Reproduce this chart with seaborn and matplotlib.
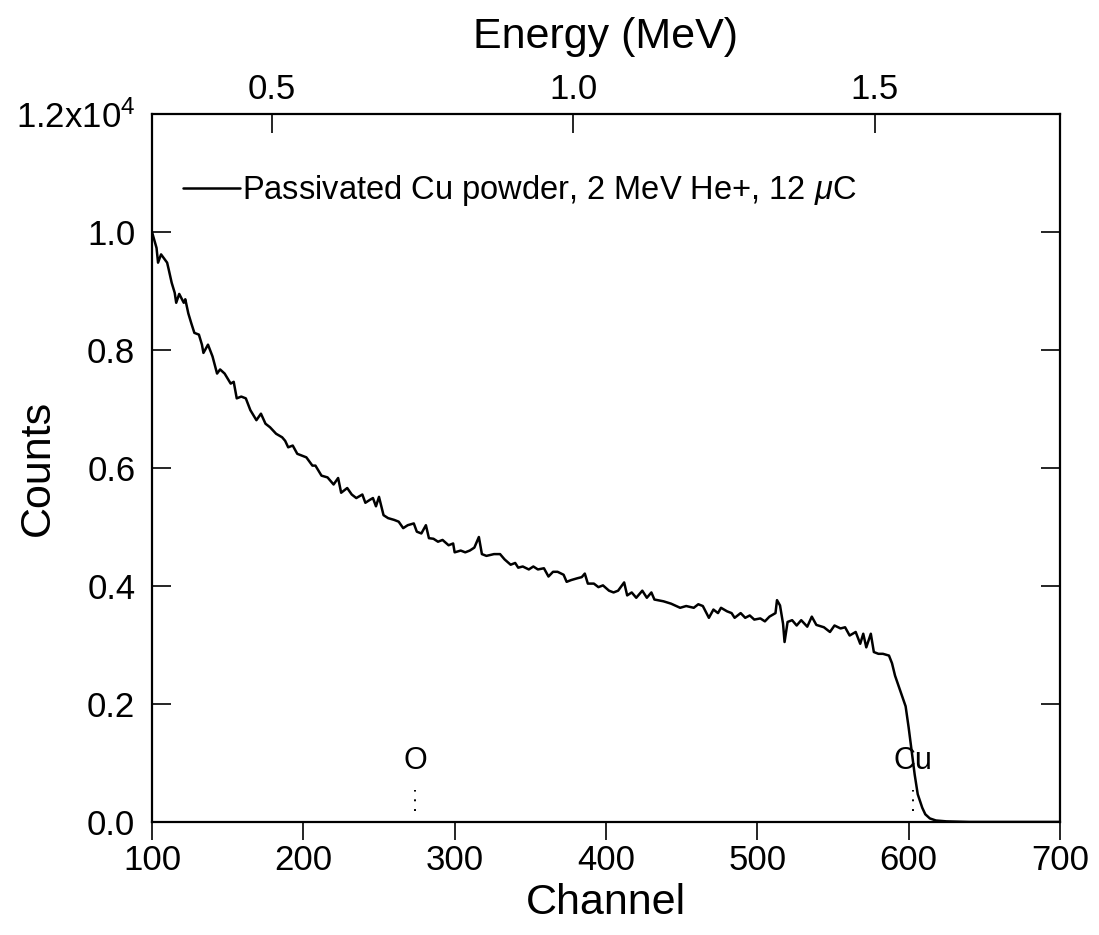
import numpy as np
import pandas as pd
import matplotlib
matplotlib.use('Agg')
import matplotlib.pyplot as plt
import seaborn as sns

# RBS spectrum (channel, counts)
channel = [100, 103, 104, 106, 110, 111, 113, 115, 116, 118, 121, 122, 124, 126, 128,
           131, 133, 134, 137, 140, 143, 145, 148, 152, 154, 156, 159, 162, 165, 169,
           172, 175, 178, 182, 186, 188, 190, 193, 196, 199, 202, 206, 208, 212, 216,
           218, 220, 223, 225, 229, 232, 235, 239, 241, 244, 246, 248, 250, 253, 256,
           260, 263, 266, 269, 273, 275, 278, 281, 283, 286, 289, 292, 296, 299, 300,
           304, 307, 310, 313, 316, 318, 321, 326, 330, 333, 337, 340, 342, 345, 349,
           352, 355, 359, 362, 365, 368, 372, 374, 377, 381, 384, 386, 388, 392, 395,
           398, 402, 405, 408, 412, 414, 417, 420, 424, 427, 430, 432, 438, 443, 449,
           453, 458, 461, 464, 468, 471, 474, 476, 480, 483, 485, 489, 492, 495, 498,
           502, 505, 508, 512, 513, 515, 517, 518, 520, 523, 526, 529, 533, 536, 539,
           544, 548, 551, 555, 558, 561, 565, 568, 570, 572, 575, 577, 580, 583, 587,
           589, 591, 593, 595, 598, 600, 602, 604, 606, 609, 611, 614, 618, 625, 640,
           660, 680, 700]
counts = [10000, 9730, 9480, 9620, 9480, 9370, 9140, 8970, 8800, 8950, 8800, 8860, 8620, 8450, 8290,
          8260, 8090, 7950, 8090, 7890, 7600, 7670, 7600, 7430, 7460, 7180, 7210, 7180, 6980, 6810,
          6920, 6750, 6690, 6580, 6520, 6460, 6350, 6380, 6240, 6210, 6180, 6040, 6040, 5870, 5840,
          5780, 5720, 5830, 5580, 5660, 5550, 5490, 5550, 5410, 5460, 5490, 5350, 5510, 5200, 5150,
          5120, 5090, 4980, 5030, 5060, 4920, 4890, 5030, 4810, 4800, 4750, 4780, 4690, 4720, 4570,
          4600, 4570, 4600, 4650, 4830, 4540, 4510, 4540, 4540, 4450, 4360, 4390, 4310, 4330, 4280,
          4330, 4280, 4300, 4160, 4240, 4240, 4190, 4070, 4100, 4130, 4150, 4210, 4040, 4040, 3980,
          4010, 3920, 3890, 3920, 4060, 3840, 3890, 3800, 3920, 3800, 3890, 3770, 3740, 3700, 3630,
          3660, 3630, 3690, 3660, 3460, 3600, 3540, 3630, 3570, 3540, 3460, 3540, 3460, 3500, 3430,
          3450, 3400, 3480, 3540, 3760, 3670, 3360, 3050, 3390, 3420, 3330, 3420, 3310, 3480, 3340,
          3300, 3220, 3330, 3280, 3300, 3160, 3220, 3020, 3190, 2960, 3190, 2880, 2850, 2850, 2820,
          2690, 2480, 2330, 2180, 1960, 1600, 1200, 800, 470, 240, 130, 60, 25, 10, 0,
          0, 0, 0]

y_ticks = [0, 2000, 4000, 6000, 8000, 10000, 12000]
y_ticklabels = ['0.0', '0.2', '0.4', '0.6', '0.8', '1.0', r'1.2x10$^4$']
x_ticks = [100, 200, 300, 400, 500, 600, 700]
e_ticks = [0.5, 1.0, 1.5]
e_ticklabels = ['0.5', '1.0', '1.5']

# surface edge markers
markers = ['O', 'Cu']
marker_channel = [274, 602.6]

legend_label = r'Passivated Cu powder, 2 MeV He+, 12 $\mu$C'

# energy calibration from the top axis ticks
CH_AT_HALF = 179.0
CH_PER_MEV = 398.6


def ch2e(ch):
    return 0.5 + (np.asarray(ch, dtype=float) - CH_AT_HALF) / CH_PER_MEV


def e2ch(e):
    return CH_AT_HALF + (np.asarray(e, dtype=float) - 0.5) * CH_PER_MEV


sns.set_theme(style='white')
plt.rcParams['font.family'] = ['Liberation Sans', 'DejaVu Sans']
plt.rcParams['mathtext.fontset'] = 'custom'
plt.rcParams['mathtext.rm'] = 'Liberation Sans'
plt.rcParams['mathtext.it'] = 'Liberation Sans:italic'

df = pd.DataFrame({'Channel': channel, 'Counts': counts})

fig = plt.figure(figsize=(10.99, 9.35), dpi=100)
ax = fig.add_axes([0.1383, 0.1209, 0.8262, 0.7572])

sns.lineplot(data=df, x='Channel', y='Counts', ax=ax, color='black', linewidth=1.8,
             estimator=None, sort=False, label=legend_label)

ax.set_xlim(100, 700)
ax.set_ylim(0, 12000)
ax.set_xticks(x_ticks)
ax.set_xticklabels([str(t) for t in x_ticks])
ax.set_yticks(y_ticks)
ax.set_yticklabels(y_ticklabels)

for s in ax.spines.values():
    s.set_visible(True)
    s.set_color('black')
    s.set_linewidth(1.6)

ax.tick_params(axis='x', direction='out', length=13, width=1.2, pad=3,
               labelsize=25, colors='black', bottom=True, top=False)
ax.tick_params(axis='y', direction='in', length=14, width=1.2, pad=12,
               labelsize=25, colors='black', left=True, right=True)
ax.set_xlabel('Channel', fontsize=31, labelpad=4, color='black')
ax.set_ylabel('Counts', fontsize=31, color='black')
ax.yaxis.set_label_coords(-0.104, 0.5)

top = ax.secondary_xaxis('top', functions=(ch2e, e2ch))
top.set_xticks(e_ticks)
top.set_xticklabels(e_ticklabels)
top.tick_params(axis='x', direction='in', length=14, width=1.2, pad=6,
                labelsize=25, colors='black')
top.set_xlabel('Energy (MeV)', fontsize=31, labelpad=18, color='black')

# surface markers
for name, ch in zip(markers, marker_channel):
    ax.plot([ch, ch], [190, 540], color='black', linestyle=(0, (1, 4)), linewidth=1.4)
    ax.text(ch, 780, name, ha='center', va='bottom', fontsize=22, color='black')

leg = ax.legend(loc='center left', bbox_to_anchor=(0.034, 0.892), frameon=False,
                fontsize=23.5, handlelength=1.75, handletextpad=0.05,
                borderpad=0, borderaxespad=0)
for t in leg.get_texts():
    t.set_color('black')

fig.savefig('out.png', dpi=100)
